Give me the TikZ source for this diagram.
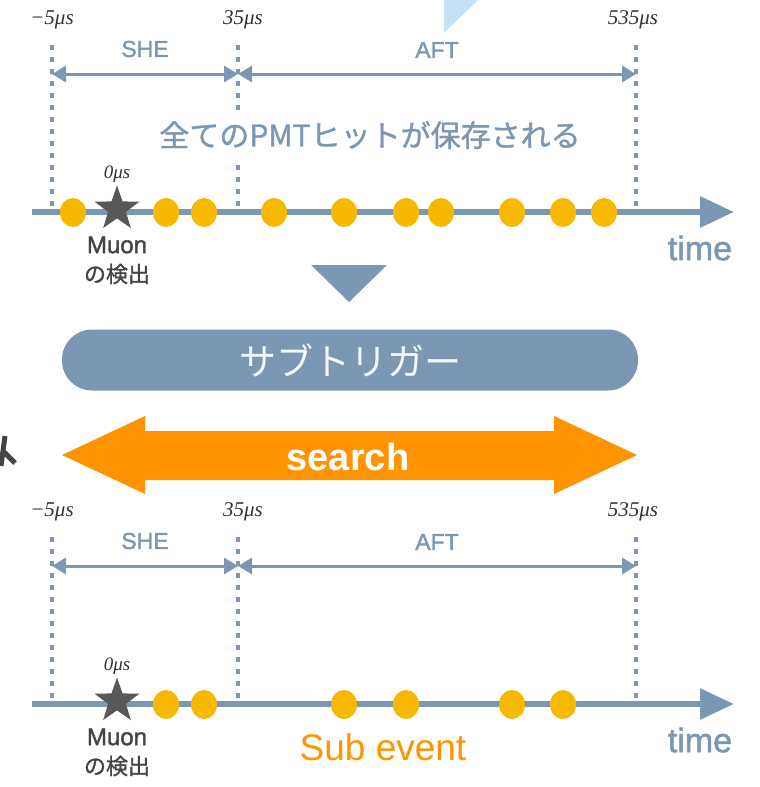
\documentclass[tikz,border=0pt]{standalone}
\usepackage{fontspec}
\setmainfont{Liberation Sans}
\newfontfamily\medsans[FakeBold=1.5]{Liberation Sans}
\newfontfamily\jpfont{Noto Sans CJK JP}
\newfontfamily\jpmed[FakeBold=1.2]{Noto Sans CJK JP}
\newfontfamily\tmfont{Liberation Serif}
\usetikzlibrary{arrows.meta,shapes.geometric}
\definecolor{steel}{HTML}{7B97B3}
\definecolor{dotc}{HTML}{F6B900}
\definecolor{orng}{HTML}{FF9400}
\definecolor{stargray}{HTML}{585858}
\definecolor{lblue}{HTML}{C8E0F4}
\definecolor{darktxt}{HTML}{444444}
\tikzset{
  hitdot/.style={ellipse,fill=dotc,minimum width=26pt,minimum height=29pt,inner sep=0pt},
  muonstar/.style={star,star points=5,star point ratio=2.5,fill=stargray,minimum size=47pt,inner sep=0pt},
  vdots/.style={steel,line width=4pt,dash pattern=on 5pt off 7pt},
  span/.style={steel,line width=3pt,{Triangle[length=14pt,width=16pt]}-{Triangle[length=14pt,width=16pt]}},
  axis/.style={steel,line width=6pt,-{Triangle[length=34pt,width=30pt]}},
  tlab/.style={inner sep=0pt,font=\tmfont\itshape\fontsize{21}{24}\selectfont,text=black!80},
  seglab/.style={inner sep=0pt,font=\medsans\fontsize{23}{26}\selectfont,text=steel},
  muonlab/.style={inner sep=0pt,font=\medsans\fontsize{24}{26}\selectfont,text=darktxt},
  muonjp/.style={inner sep=0pt,font=\jpmed\fontsize{22}{24}\selectfont,text=darktxt},
  timelab/.style={inner sep=0pt,font=\medsans\fontsize{34}{36}\selectfont,text=steel},
}
\newcommand\drawtimeline[1]{%
  \node[tlab] (lm5) at (52,20) {−5μs};
  \node[tlab] (l35) at (243,20) {35μs};
  \node[tlab] (l535) at (633,20) {535μs};
  \coordinate (va) at (52,45); \coordinate (vab) at (52,212);
  \coordinate (vb) at (238,45); \coordinate (vbb) at (238,212);
  \coordinate (vc) at (636,45); \coordinate (vcb) at (636,212);
  \draw[vdots] (va) -- (vab);
  \draw[vdots] (vb) -- (vbb);
  \draw[vdots] (vc) -- (vcb);
  \coordinate (sa) at (52,74); \coordinate (sb) at (238,74); \coordinate (sc) at (636,74);
  \draw[span] (sa) -- (sb);
  \draw[span] (sb) -- (sc);
  \node[seglab] (she) at (145,49) {SHE};
  \node[seglab] (aft) at (437,50) {AFT};
  \coordinate (ax0) at (32,212); \coordinate (ax1) at (734,212);
  \draw[axis] (ax0) -- (ax1);
  \foreach \x [count=\i] in {#1} {\node[hitdot] (dot\i) at (\x,212.5) {};}
  \node[muonstar] (star) at (117,209) {};
  \node[tlab,font=\tmfont\itshape\fontsize{19}{22}\selectfont] (zero) at (117,174) {0μs};
  \node[muonlab] (muon) at (117,245) {Muon};
  \node[muonjp] (kenshutsu) at (117,274) {の検出};
  \node[timelab] (time) at (700,248) {time};
}
\begin{document}
\begin{tikzpicture}[x=1pt,y=-1pt]
\useasboundingbox (0,0) rectangle (760,787);
\fill[white] (0,0) rectangle (760,787);
% cropped light-blue triangle at top
\fill[lblue] (444,0) -- (478,0) -- (444,33) -- cycle;
% cropped character at left edge
\draw[darktxt,line width=5pt] (5,436) -- (1,466);
\draw[darktxt,line width=5pt] (4,452) -- (15,463);

\begin{scope}[name prefix=top-]
\drawtimeline{73,166,204,274,344,406,441,512,563,604}
\node[fill=white,inner xsep=4pt,inner ysep=10pt,font=\jpmed\fontsize{30}{34}\selectfont,text=steel] (saved) at (370,135) {全てのPMTヒットが保存される};
\end{scope}

% down triangle
\fill[steel] (311,265) -- (387,265) -- (349,302) -- cycle;
\coordinate (tri) at (349,283);

% sub-trigger bar
\node[fill=steel,rounded corners=30pt,minimum width=576pt,minimum height=61pt,inner sep=0pt,
      font=\jpfont\fontsize{37}{40}\selectfont,text=white!92!steel] (subtrig) at (350,360) {サブトリガー};

% search double arrow
\fill[orng] (62,455) -- (145,416) -- (145,431) -- (554,431) -- (554,416) -- (637,455)
  -- (554,494) -- (554,480) -- (145,480) -- (145,494) -- cycle;
\node[inner sep=0pt,font=\bfseries\fontsize{38}{40}\selectfont,text=white] (search) at (348,457) {search};

\begin{scope}[name prefix=bot-,shift={(0,492)}]
\drawtimeline{166,204,344,406,512,563}
\end{scope}
\node[inner sep=0pt,font=\fontsize{37}{40}\selectfont,text=orng] (subev) at (383,747) {Sub event};
\end{tikzpicture}
\end{document}
